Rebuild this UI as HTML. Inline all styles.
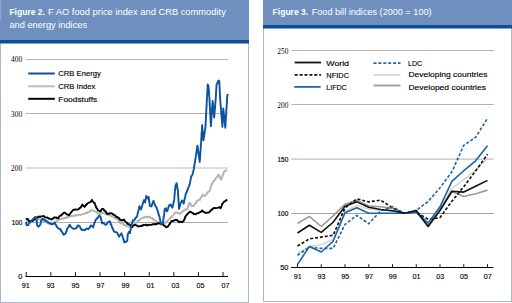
<!DOCTYPE html>
<html><head><meta charset="utf-8"><style>
html,body{margin:0;padding:0;background:#fff;width:512px;height:303px;overflow:hidden}
svg{display:block;font-family:"Liberation Sans",sans-serif}
</style></head><body>
<svg width="512" height="303" viewBox="0 0 512 303">
<rect x="0.5" y="0.5" width="248" height="302" fill="#fff" stroke="#a9bacd" stroke-width="1"/>
<rect x="263.5" y="0.5" width="248" height="301" fill="#fff" stroke="#a9bacd" stroke-width="1"/>
<rect x="0" y="0" width="249" height="40" fill="#6f8fbf"/>
<rect x="0" y="0" width="1.3" height="20.6" fill="#8ba4c9"/>
<rect x="0" y="40" width="249" height="3.5" fill="#0d4f95"/>
<rect x="263" y="0" width="249" height="25" fill="#6f8fbf"/>
<rect x="263" y="25" width="249" height="3.5" fill="#0d4f95"/>
<text x="9.4" y="15.2" font-size="9" fill="#fff"><tspan font-weight="bold" textLength="35.6" lengthAdjust="spacingAndGlyphs">Figure 2.</tspan><tspan x="48" textLength="177.8" lengthAdjust="spacingAndGlyphs">F AO food price index and CRB commodity</tspan></text>
<text x="9.4" y="28.1" font-size="9" fill="#fff" textLength="77.7" lengthAdjust="spacingAndGlyphs">and energy indices</text>
<text x="272.6" y="15.2" font-size="9" fill="#fff"><tspan font-weight="bold" textLength="35.6" lengthAdjust="spacingAndGlyphs">Figure 3.</tspan><tspan x="311.7" textLength="119.9" lengthAdjust="spacingAndGlyphs">Food bill indices (2000 = 100)</tspan></text>
<line x1="25.5" y1="59.5" x2="227.9" y2="59.5" stroke="#acacac" stroke-width="0.9"/>
<line x1="25.5" y1="113.5" x2="227.9" y2="113.5" stroke="#acacac" stroke-width="0.9"/>
<line x1="25.5" y1="167.9" x2="227.9" y2="167.9" stroke="#d2d2d2" stroke-width="1.5"/>
<line x1="25.5" y1="222.5" x2="227.9" y2="222.5" stroke="#a0a0a0" stroke-width="0.9"/>
<line x1="25.5" y1="276.5" x2="228" y2="276.5" stroke="#000" stroke-width="1"/>
<line x1="26.25" y1="272" x2="26.25" y2="276.5" stroke="#000" stroke-width="0.9"/>
<line x1="50.85" y1="272" x2="50.85" y2="276.5" stroke="#000" stroke-width="0.9"/>
<line x1="75.45" y1="272" x2="75.45" y2="276.5" stroke="#000" stroke-width="0.9"/>
<line x1="100.05" y1="272" x2="100.05" y2="276.5" stroke="#000" stroke-width="0.9"/>
<line x1="124.65" y1="272" x2="124.65" y2="276.5" stroke="#000" stroke-width="0.9"/>
<line x1="149.25" y1="272" x2="149.25" y2="276.5" stroke="#000" stroke-width="0.9"/>
<line x1="173.85" y1="272" x2="173.85" y2="276.5" stroke="#000" stroke-width="0.9"/>
<line x1="198.45" y1="272" x2="198.45" y2="276.5" stroke="#000" stroke-width="0.9"/>
<line x1="223.05" y1="272" x2="223.05" y2="276.5" stroke="#000" stroke-width="0.9"/>
<text x="22.1" y="62.1" font-family="Liberation Serif" font-size="7.8" fill="#000" text-anchor="end" textLength="11" lengthAdjust="spacingAndGlyphs">400</text>
<text x="22.1" y="116.6" font-family="Liberation Serif" font-size="7.8" fill="#000" text-anchor="end" textLength="11" lengthAdjust="spacingAndGlyphs">300</text>
<text x="22.1" y="170.6" font-family="Liberation Serif" font-size="7.8" fill="#000" text-anchor="end" textLength="11" lengthAdjust="spacingAndGlyphs">200</text>
<text x="22.1" y="225" font-size="7" fill="#111" stroke="#111" stroke-width="0.22" text-anchor="end" textLength="10.3" lengthAdjust="spacingAndGlyphs">100</text>
<text x="22.2" y="279.3" font-size="7.3" fill="#111" stroke="#111" stroke-width="0.2" text-anchor="end">0</text>
<text x="25.65" y="288" font-size="7.2" fill="#000" stroke="#000" stroke-width="0.12" text-anchor="middle">91</text>
<text x="50.63" y="288" font-size="7.2" fill="#000" stroke="#000" stroke-width="0.12" text-anchor="middle">93</text>
<text x="75.61" y="288" font-size="7.2" fill="#000" stroke="#000" stroke-width="0.12" text-anchor="middle">95</text>
<text x="100.59" y="288" font-size="7.2" fill="#000" stroke="#000" stroke-width="0.12" text-anchor="middle">97</text>
<text x="125.57" y="288" font-size="7.2" fill="#000" stroke="#000" stroke-width="0.12" text-anchor="middle">99</text>
<text x="150.55" y="288" font-size="7.2" fill="#000" stroke="#000" stroke-width="0.12" text-anchor="middle">01</text>
<text x="175.53" y="288" font-size="7.2" fill="#000" stroke="#000" stroke-width="0.12" text-anchor="middle">03</text>
<text x="200.51" y="288" font-size="7.2" fill="#000" stroke="#000" stroke-width="0.12" text-anchor="middle">05</text>
<text x="225.49" y="288" font-size="7.2" fill="#000" stroke="#000" stroke-width="0.12" text-anchor="middle">07</text>
<line x1="28.2" y1="73.5" x2="54.8" y2="73.5" stroke="#0b539e" stroke-width="2"/>
<line x1="28.2" y1="86.3" x2="54.8" y2="86.3" stroke="#bcbcbc" stroke-width="2"/>
<line x1="28.2" y1="98.8" x2="54.8" y2="98.8" stroke="#000" stroke-width="2"/>
<g fill="#000" stroke="#000" stroke-width="0.15" font-size="8.1">
<text x="58.3" y="76.3" textLength="42.5" lengthAdjust="spacingAndGlyphs">CRB Energy</text>
<text x="58.3" y="89.1" textLength="36.9" lengthAdjust="spacingAndGlyphs">CRB Index</text>
<text x="58.3" y="101.5" textLength="39" lengthAdjust="spacingAndGlyphs">Foodstuffs</text>
</g>
<polyline points="26.40,220.20 27.34,221.06 28.28,221.41 29.22,220.79 30.16,221.18 31.10,222.37 32.06,221.78 33.02,221.23 33.98,220.35 34.94,220.20 35.90,219.72 36.88,219.59 37.87,219.02 38.85,219.22 39.83,219.08 40.82,219.35 41.80,219.54 42.52,220.21 43.24,220.49 43.96,221.10 44.68,221.63 45.40,222.09 46.27,222.38 47.15,223.16 48.02,223.30 48.90,223.67 49.80,224.23 50.70,223.83 51.60,223.87 52.50,223.51 53.22,222.68 53.94,222.41 54.66,221.60 55.38,221.41 56.10,221.35 56.98,220.54 57.85,219.55 58.73,219.88 59.60,219.33 60.56,219.02 61.52,218.97 62.48,218.57 63.44,218.36 64.40,217.64 65.34,218.09 66.28,217.83 67.22,216.71 68.16,217.12 69.10,216.84 70.06,216.32 71.02,216.15 71.98,215.87 72.94,216.11 73.90,215.40 74.84,215.64 75.78,215.00 76.72,215.46 77.66,215.36 78.60,214.76 79.60,214.71 80.60,214.94 81.60,214.57 82.60,214.15 83.60,213.69 84.47,213.51 85.35,213.62 86.22,212.73 87.10,213.25 87.90,212.04 88.70,212.25 89.50,211.09 90.30,211.30 91.10,210.53 91.90,209.80 92.78,210.27 93.65,210.87 94.53,211.25 95.40,211.39 96.30,211.88 97.20,212.81 98.10,213.88 99.00,214.14 99.90,213.23 100.80,213.75 101.70,213.35 102.60,213.25 103.47,212.76 104.35,213.67 105.22,213.21 106.10,214.17 107.00,214.05 107.90,214.30 108.80,215.31 109.70,214.77 110.60,215.67 111.50,216.49 112.40,216.27 113.30,216.68 114.17,217.87 115.05,217.82 115.92,218.59 116.80,218.29 117.40,219.33 118.00,219.81 118.60,221.04 119.20,221.07 119.80,222.72 120.40,222.38 121.28,223.60 122.15,223.27 123.03,223.98 123.90,225.04 124.80,224.77 125.70,225.25 126.60,226.26 127.50,226.37 128.40,226.15 129.30,227.34 130.20,226.57 131.10,226.59 131.97,226.48 132.85,226.33 133.72,226.02 134.60,224.87 135.16,224.28 135.72,223.10 136.28,222.72 136.84,222.23 137.40,221.36 138.20,220.94 139.00,220.18 139.80,219.70 140.95,218.98 142.10,218.17 143.00,217.60 143.90,217.78 144.80,217.10 145.70,216.56 146.60,216.94 147.50,217.41 148.40,216.59 149.30,217.09 150.18,217.33 151.05,217.92 151.93,217.96 152.80,219.31 153.52,219.12 154.24,220.08 154.96,220.45 155.68,220.59 156.40,221.76 157.10,221.90 157.80,222.41 158.50,222.99 159.20,223.73 159.90,224.26 161.10,224.55 162.30,224.11 163.20,224.18 164.10,223.68 165.00,223.29 165.90,222.01 166.60,221.54 167.30,220.63 168.00,220.30 168.70,219.64 169.40,219.13 170.12,218.43 170.84,217.33 171.56,216.92 172.28,216.43 173.00,215.26 173.60,214.39 174.20,213.90 174.80,212.67 175.40,212.45 176.60,212.51 177.80,212.96 178.95,213.35 180.10,213.70 180.90,212.89 181.70,212.42 182.50,211.56 183.30,210.79 184.10,210.56 184.90,209.48 186.10,209.70 187.30,209.21 187.63,208.09 187.96,206.91 188.29,206.14 188.61,205.36 188.94,203.92 189.27,203.47 189.60,202.73 190.20,203.35 190.80,204.25 191.40,206.03 192.35,205.75 193.30,206.12 193.90,205.78 194.50,204.65 195.10,203.52 195.70,203.50 196.30,202.04 196.90,200.87 197.65,201.10 198.40,199.96 199.15,199.69 199.90,199.77 200.38,198.82 200.87,197.33 201.35,197.05 201.83,196.24 202.32,195.55 202.80,194.48 203.70,195.80 204.60,196.13 205.20,195.54 205.80,194.82 206.40,194.62 207.00,192.85 207.60,192.78 208.37,191.56 209.13,191.38 209.90,190.58 210.14,189.78 210.38,189.23 210.61,187.96 210.85,186.78 211.09,185.91 211.33,184.99 211.56,184.96 211.80,183.86 212.37,183.43 212.94,182.37 213.51,180.86 214.09,180.79 214.66,180.15 215.23,179.32 215.80,178.30 216.40,177.44 217.00,176.85 217.60,176.53 218.20,175.25 218.80,174.83 219.20,175.61 219.60,176.97 220.00,177.63 220.40,178.61 220.80,179.34 221.20,179.58 221.51,178.57 221.82,177.91 222.14,176.72 222.45,175.97 222.76,175.31 223.07,174.64 223.39,173.33 223.70,172.65 224.70,171.11 225.70,170.64 227.20,169.90" fill="none" stroke="#b4b4b4" stroke-width="2" stroke-linejoin="round"/>
<polyline points="25.80,219.60 26.70,219.01 27.60,219.05 28.18,219.61 28.75,220.61 29.32,221.39 29.90,221.52 31.10,220.86 32.30,221.17 33.02,219.94 33.74,219.31 34.46,219.55 35.18,218.37 35.90,218.17 36.77,217.47 37.65,217.35 38.52,216.52 39.40,216.75 40.30,216.85 41.20,216.33 42.10,216.42 43.00,216.19 43.90,215.97 44.80,217.18 45.70,217.45 46.60,217.58 47.54,217.52 48.48,218.68 49.42,218.49 50.36,219.00 51.30,219.42 52.20,218.79 53.10,218.56 54.00,217.53 54.90,217.53 56.07,217.34 57.23,218.08 58.40,218.22 59.12,216.66 59.84,216.00 60.56,215.39 61.28,215.51 62.00,214.23 62.80,213.84 63.60,212.88 64.40,212.51 65.20,212.97 66.00,213.54 66.80,214.39 67.95,214.64 69.10,215.24 69.70,214.13 70.30,213.52 70.90,212.57 71.50,211.84 72.40,210.89 73.30,209.73 74.20,209.90 75.10,209.41 76.25,209.65 77.40,209.58 78.60,209.14 79.80,207.98 80.45,207.86 81.10,206.78 81.75,205.66 82.40,204.62 83.60,206.09 84.80,206.84 85.57,205.05 86.33,205.03 87.10,203.80 88.30,202.92 89.50,202.47 90.30,202.20 91.10,201.51 91.90,199.80 92.50,201.33 93.10,201.60 93.95,202.94 94.80,203.11 95.16,204.68 95.52,205.75 95.88,206.19 96.24,207.69 96.60,207.89 97.20,208.60 97.80,210.14 98.40,210.48 99.30,210.97 100.20,211.50 100.80,211.00 101.40,209.77 102.00,208.92 102.60,209.10 103.37,209.06 104.13,210.34 104.90,210.84 105.50,211.17 106.10,212.16 106.70,213.12 107.30,214.16 108.20,213.81 109.10,213.47 110.00,213.23 110.90,213.28 111.78,213.41 112.65,213.92 113.53,214.84 114.40,214.91 115.30,215.58 116.20,216.93 117.10,217.02 118.00,217.65 118.75,217.79 119.50,218.96 120.25,219.86 121.00,219.97 121.97,220.43 122.93,220.25 123.90,219.42 124.62,220.76 125.34,221.30 126.06,222.26 126.78,222.62 127.50,223.73 128.30,224.36 129.10,224.17 129.90,224.82 131.10,226.09 132.30,227.01 133.07,225.63 133.83,225.25 134.60,224.80 135.50,224.95 136.40,225.45 137.30,225.84 138.20,226.36 139.10,226.47 140.00,226.01 140.90,225.96 141.80,226.10 142.70,224.98 143.60,225.28 144.50,225.16 145.40,224.79 146.30,224.79 147.20,225.53 148.10,225.01 149.27,224.76 150.43,224.83 151.60,224.92 152.50,224.11 153.40,224.20 154.30,224.07 155.20,224.47 156.10,223.83 157.00,224.09 157.90,223.14 158.80,223.12 159.95,223.57 161.10,223.92 161.90,224.05 162.70,224.40 163.50,224.88 164.30,225.83 165.10,225.96 165.90,227.14 166.80,227.32 167.70,226.75 168.27,225.86 168.83,225.44 169.40,224.26 170.00,223.69 170.60,222.43 171.20,221.44 171.80,220.87 173.00,221.12 174.20,220.25 175.40,220.03 176.60,219.81 177.37,220.41 178.13,221.00 178.90,222.16 180.10,221.62 181.30,221.76 182.10,222.19 182.90,221.52 183.70,221.04 184.12,219.51 184.53,219.16 184.95,218.22 185.37,216.53 185.78,216.19 186.20,215.37 186.92,214.60 187.64,213.86 188.36,213.03 189.08,212.51 189.80,211.80 190.95,211.92 192.10,212.80 192.90,213.03 193.70,214.17 194.50,213.90 195.70,214.29 196.90,213.51 198.10,213.17 199.30,212.54 200.27,212.14 201.23,211.38 202.20,210.36 203.00,211.77 203.80,211.74 204.60,212.48 205.60,212.88 206.60,212.73 207.60,212.61 208.75,212.58 209.90,211.62 210.62,210.61 211.34,209.79 212.06,209.74 212.78,208.59 213.50,208.21 214.70,208.04 215.90,208.17 217.10,207.94 218.30,207.65 219.45,207.24 220.60,208.22 221.00,207.48 221.40,206.47 221.80,205.61 222.20,203.82 222.60,203.62 223.00,203.00 224.20,201.50 225.40,201.15 226.30,200.25 227.20,199.60" fill="none" stroke="#000" stroke-width="1.9" stroke-linejoin="round"/>
<polyline points="25.80,222.00 26.07,222.88 26.33,223.90 26.60,225.39 28.20,225.12 28.57,224.06 28.93,223.46 29.30,223.06 30.02,222.33 30.74,221.69 31.46,220.49 32.18,220.24 32.90,219.35 33.70,218.44 34.50,217.57 35.30,216.89 35.90,218.57 36.50,219.36 36.60,220.32 36.70,221.30 36.80,221.61 36.90,222.72 37.00,224.06 37.10,225.16 38.30,226.49 39.15,226.22 40.00,225.05 40.24,224.68 40.48,223.81 40.72,222.69 40.96,221.39 41.20,220.77 41.80,219.55 42.40,219.68 43.00,218.80 43.90,219.35 44.80,219.98 45.70,220.95 46.60,220.88 47.45,221.82 48.30,222.38 49.50,223.21 50.70,223.66 51.90,224.41 52.90,223.86 53.90,223.19 54.90,222.99 55.35,224.42 55.80,224.45 56.25,225.33 56.70,226.84 57.55,227.36 58.40,228.54 59.30,228.77 60.20,228.93 60.80,230.65 61.40,230.77 62.00,232.00 62.60,232.74 63.20,234.18 63.80,234.75 64.70,233.99 65.60,233.57 65.94,232.26 66.28,231.68 66.62,231.22 66.96,229.50 67.30,228.62 67.78,227.96 68.26,227.71 68.74,226.71 69.22,225.45 69.70,224.71 70.30,225.55 70.90,226.85 71.50,227.40 72.70,228.42 73.90,228.94 75.10,228.70 76.30,228.16 76.88,227.66 77.45,225.87 78.02,225.42 78.60,225.41 79.30,226.20 80.00,226.80 80.60,228.35 81.20,228.97 81.80,230.15 82.80,229.77 83.80,229.86 84.80,230.34 85.57,229.23 86.33,228.74 87.10,228.61 87.70,228.76 88.30,229.26 88.78,228.48 89.26,227.80 89.74,227.65 90.22,226.37 90.70,225.47 91.90,225.86 93.10,227.43 93.43,225.96 93.76,224.86 94.09,223.84 94.41,222.98 94.74,222.25 95.07,221.95 95.40,220.51 96.00,219.52 96.60,219.14 97.20,218.00 97.80,217.95 98.70,216.08 99.60,215.63 100.20,216.80 100.80,217.30 101.00,218.92 101.20,219.34 101.40,220.07 101.60,221.24 101.80,221.81 102.00,223.21 103.80,223.02 104.95,224.33 106.10,224.86 107.00,223.60 107.90,222.18 108.80,221.83 109.70,221.22 110.06,222.02 110.42,222.88 110.78,224.43 111.14,224.47 111.50,225.21 111.92,227.10 112.33,227.64 112.75,229.04 113.17,229.33 113.58,230.81 114.00,231.47 114.87,231.95 115.73,232.24 116.60,232.29 117.12,232.63 117.64,233.54 118.16,235.05 118.68,235.86 119.20,236.67 119.78,235.27 120.35,234.87 120.92,234.28 121.50,233.36 121.84,234.55 122.18,235.23 122.52,236.37 122.86,237.40 123.20,237.95 123.45,239.57 123.70,240.50 123.95,240.43 124.20,242.32 125.20,242.11 126.20,241.59 127.20,240.70 127.29,240.64 127.37,238.79 127.46,238.72 127.54,237.38 127.63,235.72 127.71,234.83 127.80,234.35 128.23,233.31 128.67,232.54 129.10,231.77 129.45,232.14 129.80,233.05 130.02,233.05 130.23,231.03 130.45,230.96 130.67,229.11 130.88,228.86 131.10,227.81 131.32,226.98 131.55,225.68 131.78,225.10 132.00,223.42 132.22,223.00 132.45,221.69 132.68,221.37 132.90,220.30 134.00,220.47 134.60,219.76 135.20,218.45 135.80,217.69 136.40,217.40 137.00,216.39 137.24,215.84 137.48,214.60 137.72,213.12 137.96,212.41 138.20,211.89 138.40,210.74 138.60,209.29 138.80,209.32 139.00,208.43 139.20,206.73 139.40,206.35 139.78,207.04 140.15,208.37 140.53,208.72 140.90,209.51 141.20,208.80 141.50,208.35 141.80,206.40 142.10,205.44 142.40,205.02 142.70,204.32 143.00,202.89 143.30,201.78 143.60,201.22 143.90,200.10 144.50,200.47 145.10,202.52 145.30,200.78 145.50,199.92 145.70,199.52 145.90,198.08 146.10,197.51 146.30,195.83 146.90,197.81 147.50,198.24 148.70,197.01 148.82,198.32 148.94,199.07 149.07,200.21 149.19,201.53 149.31,202.24 149.43,202.39 149.56,203.65 149.68,204.83 149.80,205.69 150.70,206.24 151.60,206.28 151.90,204.83 152.20,204.02 152.50,203.68 152.80,202.14 153.10,201.59 153.40,200.83 153.70,201.34 154.00,202.29 154.30,203.12 154.60,203.69 154.90,205.25 155.20,205.66 156.40,207.35 156.70,207.56 157.00,209.05 157.30,209.84 157.60,210.52 157.86,211.27 158.11,211.87 158.37,213.50 158.62,213.98 158.88,215.24 159.13,215.60 159.39,216.47 159.64,217.47 159.90,219.14 160.10,219.33 160.30,221.01 160.50,221.31 160.70,222.42 160.90,223.05 161.10,224.23 162.00,223.35 162.90,223.39 163.02,223.03 163.14,221.25 163.26,220.83 163.38,219.52 163.50,218.55 163.62,217.30 163.74,216.35 163.86,216.42 163.98,215.34 164.10,214.36 164.22,213.42 164.34,212.64 164.46,210.82 164.58,210.34 164.70,209.29 165.90,208.18 166.20,209.46 166.50,210.14 166.80,211.24 167.10,211.18 167.38,210.78 167.67,209.83 167.95,208.92 168.23,207.80 168.52,207.05 168.80,205.48 169.70,205.57 170.60,204.40 171.20,205.61 171.80,206.94 172.40,207.72 172.62,206.33 172.85,205.28 173.07,204.42 173.30,203.79 173.53,203.23 173.75,202.16 173.97,200.65 174.20,199.69 174.28,199.24 174.36,197.74 174.44,196.97 174.52,195.61 174.61,194.89 174.69,194.37 174.77,193.63 174.85,192.63 174.93,191.44 175.01,191.17 175.09,189.90 175.18,188.47 175.26,187.46 175.34,187.55 175.42,186.65 175.50,185.66 176.10,184.41 176.70,183.19 176.85,183.91 177.00,185.06 177.15,185.98 177.30,187.72 177.45,188.64 177.60,189.48 177.75,189.75 177.90,190.81 177.96,191.81 178.02,193.45 178.07,193.51 178.13,195.12 178.19,195.93 178.25,196.71 178.31,198.09 178.36,198.25 178.42,199.46 178.48,199.99 178.54,200.85 178.59,201.70 178.65,202.94 178.71,203.65 178.77,204.51 178.83,206.46 178.88,206.62 178.94,208.20 179.00,208.92 179.28,207.90 179.55,206.77 179.82,206.05 180.10,204.92 180.46,203.90 180.82,202.89 181.18,202.19 181.54,201.39 181.90,200.36 182.50,201.30 183.10,201.92 183.70,203.68 183.91,202.33 184.12,200.91 184.33,200.07 184.54,199.89 184.76,198.25 184.97,197.45 185.18,196.81 185.39,196.05 185.60,194.51 185.94,193.73 186.29,192.93 186.63,191.65 186.97,191.74 187.31,189.96 187.66,190.15 188.00,188.42 188.36,187.46 188.72,187.26 189.08,186.28 189.44,184.67 189.80,184.06 189.95,183.09 190.10,182.47 190.25,180.99 190.40,180.81 190.55,180.11 190.70,178.90 190.85,178.25 191.00,177.38 191.45,175.87 191.90,175.48 192.35,174.57 192.80,173.40 193.00,171.98 193.20,171.66 193.40,171.10 193.60,169.55 193.80,169.04 194.00,168.44 194.14,167.21 194.27,165.70 194.41,165.46 194.54,164.15 194.68,163.91 194.82,162.80 194.95,161.52 195.09,161.27 195.22,160.07 195.36,158.86 195.50,158.51 195.63,157.68 195.77,156.78 195.90,155.88 196.04,154.73 196.18,153.88 196.31,152.88 196.45,151.90 196.58,151.51 196.72,149.92 196.86,148.72 196.99,148.52 197.13,147.39 197.26,146.55 197.40,145.71 197.53,146.24 197.66,147.09 197.78,147.86 197.91,149.55 198.04,150.60 198.17,151.28 198.29,151.56 198.42,153.42 198.55,154.16 198.68,154.72 198.81,155.07 198.93,156.91 199.06,157.58 199.19,158.49 199.32,158.74 199.44,160.43 199.57,160.58 199.70,161.98 199.76,160.70 199.82,160.02 199.89,159.69 199.95,158.62 200.01,157.79 200.07,156.30 200.14,155.49 200.20,154.82 200.26,153.27 200.32,152.78 200.39,152.48 200.45,151.33 200.51,150.54 200.57,149.00 200.64,148.52 200.70,147.72 200.76,146.71 200.82,145.51 200.89,144.30 200.95,143.22 201.01,143.26 201.07,142.40 201.14,140.77 201.20,140.38 201.26,139.09 201.32,138.42 201.39,137.74 201.45,136.25 201.51,135.67 201.57,134.36 201.64,133.72 201.70,132.28 201.76,131.63 201.82,130.74 201.89,130.52 201.95,128.75 202.01,128.52 202.07,126.87 202.14,126.95 202.20,125.13 202.27,126.00 202.35,127.07 202.42,128.81 202.50,129.46 202.57,130.65 202.65,131.16 202.72,131.68 202.80,132.87 202.88,133.94 202.95,135.48 203.03,135.51 203.10,136.54 203.18,138.15 203.25,138.29 203.33,140.17 203.40,140.38 203.54,139.77 203.69,138.98 203.83,138.35 203.97,136.53 204.11,136.48 204.26,134.85 204.40,134.54 204.54,132.88 204.69,132.79 204.83,131.25 204.97,130.38 205.11,129.29 205.26,128.71 205.40,127.81 205.45,127.63 205.50,126.31 205.54,125.14 205.59,124.93 205.64,123.13 205.69,122.27 205.74,122.19 205.78,121.28 205.83,120.08 205.88,119.51 205.93,117.59 205.97,117.62 206.02,116.50 206.07,115.56 206.12,114.85 206.17,113.13 206.21,112.33 206.26,111.36 206.31,110.84 206.36,110.01 206.41,109.10 206.45,108.00 206.50,107.52 206.55,106.72 206.60,105.73 206.65,104.04 206.69,103.26 206.74,102.43 206.79,101.55 206.84,101.02 206.89,99.70 206.93,99.27 206.98,98.06 207.03,97.18 207.08,96.66 207.12,96.01 207.17,94.28 207.22,93.55 207.27,93.35 207.32,91.60 207.36,90.49 207.41,89.77 207.46,89.57 207.51,88.56 207.56,87.89 207.60,86.50 207.65,85.10 207.70,84.49 208.50,86.24 208.57,86.82 208.63,87.47 208.70,88.66 208.77,89.69 208.83,90.51 208.90,91.54 208.97,92.13 209.03,92.95 209.10,94.71 209.17,95.59 209.23,96.18 209.30,96.78 209.37,97.91 209.43,99.13 209.50,100.43 209.55,100.89 209.60,102.33 209.64,102.75 209.69,103.28 209.74,104.66 209.79,105.55 209.84,106.46 209.89,107.50 209.93,107.64 209.98,109.00 210.03,110.31 210.08,110.48 210.13,111.29 210.18,112.35 210.22,113.37 210.27,114.44 210.32,115.21 210.37,116.47 210.42,116.87 210.47,117.97 210.51,119.24 210.56,120.00 210.61,121.36 210.66,122.25 210.71,122.41 210.76,123.40 210.80,124.53 210.85,125.44 210.90,126.15 210.96,125.77 211.02,124.12 211.08,123.49 211.14,122.18 211.20,122.10 211.26,120.86 211.32,120.36 211.39,118.51 211.45,118.21 211.51,117.16 211.57,115.63 211.63,115.55 211.69,114.69 211.75,112.89 211.81,112.91 211.87,111.81 211.93,110.69 211.99,109.70 212.05,108.46 212.11,107.31 212.18,106.85 212.24,106.35 212.30,104.71 212.36,104.07 212.42,102.94 212.48,102.46 212.54,101.83 212.60,100.83 212.69,101.09 212.78,102.15 212.87,102.62 212.96,104.12 213.04,105.40 213.13,106.31 213.22,106.38 213.31,107.70 213.40,108.24 213.49,109.54 213.58,111.00 213.67,111.23 213.76,112.77 213.84,113.81 213.93,114.58 214.02,114.83 214.11,116.54 214.20,117.47 214.28,116.64 214.35,114.65 214.43,113.74 214.50,113.15 214.58,112.50 214.66,111.49 214.73,110.22 214.81,109.92 214.89,109.04 214.96,108.10 215.04,107.06 215.11,106.20 215.19,105.45 215.27,103.85 215.34,103.36 215.42,102.12 215.50,101.18 215.57,101.00 215.65,99.62 215.72,98.73 215.80,97.75 215.85,97.17 215.90,95.72 215.95,95.37 216.00,93.81 216.05,93.86 216.10,92.05 216.15,91.79 216.20,90.62 216.25,89.56 216.30,88.50 216.35,87.63 216.40,87.14 216.45,85.96 216.50,85.04 216.92,83.80 217.34,83.30 217.76,81.88 218.18,81.30 218.60,80.57 219.30,81.05 219.34,81.99 219.39,82.89 219.43,83.38 219.47,85.12 219.51,85.73 219.56,86.68 219.60,87.83 219.64,88.18 219.69,88.96 219.73,89.83 219.77,90.75 219.81,91.64 219.86,92.56 219.90,93.35 219.94,94.55 219.99,95.25 220.03,96.24 220.07,97.47 220.11,97.99 220.16,99.49 220.20,100.33 220.28,100.72 220.35,102.18 220.43,102.36 220.50,103.18 220.58,105.08 220.66,104.93 220.73,105.80 220.81,107.66 220.88,107.61 220.96,109.24 221.03,110.04 221.11,110.58 221.19,111.51 221.26,113.21 221.34,113.49 221.41,114.23 221.49,115.35 221.57,116.58 221.64,117.00 221.72,117.69 221.79,119.36 221.87,119.51 221.94,120.37 222.02,121.22 222.10,123.22 222.17,123.51 222.25,124.75 222.32,125.46 222.40,126.82 222.44,125.23 222.49,124.33 222.53,123.80 222.58,122.15 222.62,121.65 222.67,121.19 222.72,120.08 222.76,119.09 222.81,118.68 222.85,117.23 222.90,116.65 222.94,115.38 222.99,114.15 223.03,113.58 223.08,112.48 223.12,111.38 223.17,110.76 223.21,109.69 223.26,109.15 223.30,108.56 223.40,109.52 223.49,110.59 223.59,110.90 223.68,112.22 223.78,113.39 223.87,113.79 223.97,115.29 224.06,115.33 224.16,117.16 224.25,118.05 224.35,119.09 224.44,119.86 224.54,120.67 224.63,121.30 224.73,122.54 224.82,123.65 224.92,124.25 225.01,125.23 225.11,126.50 225.20,126.73 225.30,127.72 225.36,126.49 225.41,126.51 225.47,125.33 225.52,124.48 225.58,123.10 225.63,122.14 225.69,121.56 225.74,121.09 225.80,119.62 225.86,118.79 225.91,117.88 225.97,117.45 226.02,115.75 226.08,115.66 226.13,113.82 226.19,113.67 226.24,112.84 226.30,111.62 226.36,111.01 226.41,109.60 226.47,108.55 226.52,107.88 226.58,106.88 226.63,106.47 226.69,105.40 226.74,104.60 226.80,104.05 226.86,102.92 226.91,102.04 226.97,101.33 227.02,100.39 227.08,99.28 227.13,97.94 227.19,97.21 227.24,96.58 227.30,95.72 228.00,94.00" fill="none" stroke="#0b539e" stroke-width="1.9" stroke-linejoin="round"/>
<line x1="291.3" y1="50.5" x2="493.9" y2="50.5" stroke="#b4b4b4" stroke-width="1"/>
<line x1="291.3" y1="104.5" x2="493.9" y2="104.5" stroke="#acacac" stroke-width="0.9"/>
<line x1="291.3" y1="159.1" x2="493.9" y2="159.1" stroke="#d2d2d2" stroke-width="1.6"/>
<line x1="291.3" y1="213.5" x2="493.9" y2="213.5" stroke="#a0a0a0" stroke-width="1"/>
<line x1="291.1" y1="267.5" x2="493.5" y2="267.5" stroke="#000" stroke-width="1"/>
<line x1="297.50" y1="264.2" x2="297.50" y2="267.5" stroke="#000" stroke-width="0.9"/>
<line x1="321.25" y1="264.2" x2="321.25" y2="267.5" stroke="#000" stroke-width="0.9"/>
<line x1="345.00" y1="264.2" x2="345.00" y2="267.5" stroke="#000" stroke-width="0.9"/>
<line x1="368.75" y1="264.2" x2="368.75" y2="267.5" stroke="#000" stroke-width="0.9"/>
<line x1="392.50" y1="264.2" x2="392.50" y2="267.5" stroke="#000" stroke-width="0.9"/>
<line x1="416.25" y1="264.2" x2="416.25" y2="267.5" stroke="#000" stroke-width="0.9"/>
<line x1="440.00" y1="264.2" x2="440.00" y2="267.5" stroke="#000" stroke-width="0.9"/>
<line x1="463.75" y1="264.2" x2="463.75" y2="267.5" stroke="#000" stroke-width="0.9"/>
<line x1="487.50" y1="264.2" x2="487.50" y2="267.5" stroke="#000" stroke-width="0.9"/>
<text x="288.3" y="53.9" font-family="Liberation Serif" font-size="7.8" fill="#000" text-anchor="end" textLength="11" lengthAdjust="spacingAndGlyphs">250</text>
<text x="288.3" y="107.9" font-family="Liberation Serif" font-size="7.8" fill="#000" text-anchor="end" textLength="11" lengthAdjust="spacingAndGlyphs">200</text>
<text x="288.3" y="161.9" font-size="7" fill="#111" stroke="#111" stroke-width="0.22" text-anchor="end" textLength="10.8" lengthAdjust="spacingAndGlyphs">150</text>
<text x="288.3" y="215.9" font-size="7" fill="#111" stroke="#111" stroke-width="0.22" text-anchor="end" textLength="10.8" lengthAdjust="spacingAndGlyphs">100</text>
<text x="288.5" y="270.4" font-size="7.5" fill="#111" stroke="#111" stroke-width="0.2" text-anchor="end">50</text>
<text x="297.70" y="279" font-size="7.2" fill="#000" stroke="#000" stroke-width="0.12" text-anchor="middle">91</text>
<text x="321.45" y="279" font-size="7.2" fill="#000" stroke="#000" stroke-width="0.12" text-anchor="middle">93</text>
<text x="345.20" y="279" font-size="7.2" fill="#000" stroke="#000" stroke-width="0.12" text-anchor="middle">95</text>
<text x="368.95" y="279" font-size="7.2" fill="#000" stroke="#000" stroke-width="0.12" text-anchor="middle">97</text>
<text x="392.70" y="279" font-size="7.2" fill="#000" stroke="#000" stroke-width="0.12" text-anchor="middle">99</text>
<text x="416.45" y="279" font-size="7.2" fill="#000" stroke="#000" stroke-width="0.12" text-anchor="middle">01</text>
<text x="440.20" y="279" font-size="7.2" fill="#000" stroke="#000" stroke-width="0.12" text-anchor="middle">03</text>
<text x="463.95" y="279" font-size="7.2" fill="#000" stroke="#000" stroke-width="0.12" text-anchor="middle">05</text>
<text x="487.70" y="279" font-size="7.2" fill="#000" stroke="#000" stroke-width="0.12" text-anchor="middle">07</text>
<line x1="294.7" y1="62.5" x2="321" y2="62.5" stroke="#111" stroke-width="1.8"/>
<line x1="294.7" y1="74.8" x2="321" y2="74.8" stroke="#111" stroke-width="1.8" stroke-dasharray="3,1.9"/>
<line x1="294.2" y1="86.9" x2="320.6" y2="86.9" stroke="#2369aa" stroke-width="1.8"/>
<line x1="373.5" y1="63.2" x2="400.5" y2="63.2" stroke="#2369aa" stroke-width="1.8" stroke-dasharray="3,1.9"/>
<line x1="373.5" y1="74.9" x2="400.5" y2="74.9" stroke="#d6d6d6" stroke-width="1.8"/>
<line x1="373.5" y1="85.5" x2="400.5" y2="85.5" stroke="#9a9a9a" stroke-width="1.8"/>
<g fill="#000" stroke="#000" stroke-width="0.15" font-size="8.1">
<text x="326.3" y="65.6" textLength="22.7" lengthAdjust="spacingAndGlyphs">World</text>
<text x="326.3" y="78" textLength="22.7" lengthAdjust="spacingAndGlyphs">NFIDC</text>
<text x="326.3" y="90.2" textLength="20.3" lengthAdjust="spacingAndGlyphs">LIFDC</text>
<text x="408" y="65.5" textLength="14" lengthAdjust="spacingAndGlyphs">LDC</text>
<text x="408.4" y="77.4" textLength="79" lengthAdjust="spacingAndGlyphs">Developing countries</text>
<text x="408.4" y="89.6" textLength="77.6" lengthAdjust="spacingAndGlyphs">Developed countries</text>
</g>
<polyline points="297.50,253.18 309.38,246.56 321.25,244.72 333.12,239.51 345.00,211.08 356.88,205.66 368.75,208.91 380.62,210.00 392.50,211.08 404.38,213.25 416.25,212.16 428.12,224.10 440.00,207.82 451.88,188.30 463.75,179.62 475.62,170.39 487.50,157.92" fill="none" stroke="#d6d6d6" stroke-width="1.6" stroke-linejoin="round"/>
<polyline points="297.50,223.45 309.38,216.40 321.25,226.49 333.12,215.85 345.00,204.14 356.88,200.23 368.75,205.98 380.62,206.74 392.50,208.37 404.38,213.25 416.25,212.16 428.12,226.27 440.00,210.00 451.88,191.55 463.75,196.43 475.62,193.72 487.50,190.14" fill="none" stroke="#9a9a9a" stroke-width="1.6" stroke-linejoin="round"/>
<polyline points="297.50,246.02 309.38,238.86 321.25,237.12 333.12,235.28 345.00,207.82 356.88,198.93 368.75,201.86 380.62,200.12 392.50,207.82 404.38,213.25 416.25,212.16 428.12,219.33 440.00,217.59 451.88,201.31 463.75,186.67 475.62,170.94 487.50,154.33" fill="none" stroke="#111" stroke-width="1.6" stroke-dasharray="3,1.9" stroke-linejoin="round"/>
<polyline points="297.50,255.24 309.38,247.21 321.25,248.40 333.12,248.40 345.00,224.43 356.88,215.42 368.75,223.77 380.62,210.75 392.50,206.74 404.38,213.25 416.25,210.43 428.12,201.53 440.00,187.75 451.88,171.80 463.75,145.44 475.62,137.30 487.50,118.31" fill="none" stroke="#1c62a8" stroke-width="1.6" stroke-dasharray="3,1.9" stroke-linejoin="round"/>
<polyline points="297.50,264.35 309.38,246.56 321.25,251.98 333.12,241.24 345.00,212.71 356.88,207.82 368.75,213.25 380.62,213.25 392.50,213.25 404.38,213.25 416.25,212.16 428.12,223.01 440.00,206.74 451.88,181.46 463.75,170.72 475.62,160.84 487.50,145.76" fill="none" stroke="#1c62a8" stroke-width="1.6" stroke-linejoin="round"/>
<polyline points="297.50,233.00 309.38,225.29 321.25,232.35 333.12,222.26 345.00,206.31 356.88,201.86 368.75,207.17 380.62,209.56 392.50,210.75 404.38,213.25 416.25,210.43 428.12,226.49 440.00,210.54 451.88,191.22 463.75,192.09 475.62,186.23 487.50,180.37" fill="none" stroke="#111" stroke-width="1.6" stroke-linejoin="round"/>
</svg>
</body></html>
